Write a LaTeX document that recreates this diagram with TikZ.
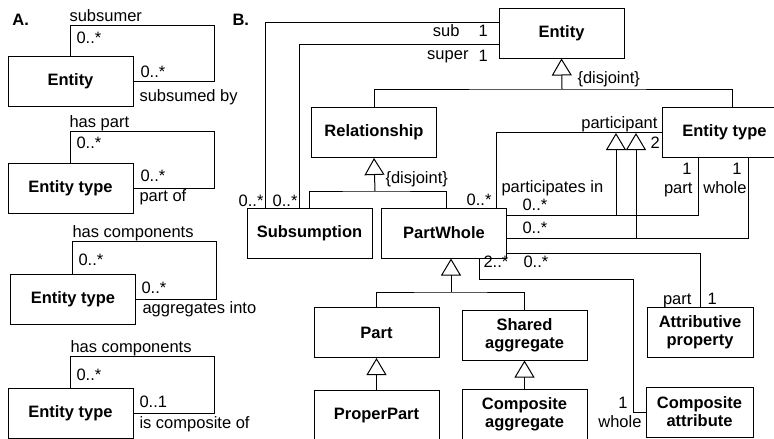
\documentclass[tikz,border=0pt]{standalone}
\usepackage{fontspec}
\setmainfont{Liberation Sans}
\usetikzlibrary{positioning, arrows.meta}

\begin{document}
\begin{tikzpicture}[x=1pt, y=-1pt, line width=1pt,
  box/.style={draw, minimum width=125pt, minimum height=50pt, inner sep=1pt, align=center, font=\bfseries\fontsize{16.5}{18}\selectfont},
  lbl/.style={inner sep=0pt, anchor=base west, font=\fontsize{16.5}{18}\selectfont},
  lble/.style={lbl, anchor=base east},
  gen/.style={-{Triangle[open, length=17pt, width=20pt]}}]

  \useasboundingbox (0,0) rectangle (774,439);

  \node[lbl, font=\bfseries\fontsize{16.5}{18}\selectfont] (atitle) at (12,25) {A.};
  \node[lbl, font=\bfseries\fontsize{16.5}{18}\selectfont] (btitle) at (232,25) {B.};

  \node[box] (ea) at (70.5,81.5) {Entity};
  \draw ([xshift=63pt]ea.north west) |- ++(144,-31) |- (ea.east);
  \node[lbl] (ea1) at (69,21) {subsumer};
  \node[lbl] (ea2) at (76,43) {0..*};
  \node[lbl] (ea3) at (140,77) {0..*};
  \node[lbl] (ea4) at (139,101) {subsumed by};

  \node[box] (eta) at (70.5,188) {Entity type};
  \draw ([xshift=63pt]eta.north west) |- ++(144,-31) |- (eta.east);
  \node[lbl] (eta1) at (69,127) {has part};
  \node[lbl] (eta2) at (76,148) {0..*};
  \node[lbl] (eta3) at (140,181) {0..*};
  \node[lbl] (eta4) at (139,201) {part of};

  \node[box] (etb) at (73,299) {Entity type};
  \draw ([xshift=62pt]etb.north west) |- ++(144,-32) |- (etb.east);
  \node[lbl] (etb1) at (72,237) {has components};
  \node[lbl] (etb2) at (78,265) {0..*};
  \node[lbl] (etb3) at (141,293) {0..*};
  \node[lbl] (etb4) at (142,313) {aggregates into};

  \node[box] (etc) at (70.5,413) {Entity type};
  \draw ([xshift=63pt]etc.north west) |- ++(144,-31) |- (etc.east);
  \node[lbl] (etc1) at (70,352) {has components};
  \node[lbl] (etc2) at (76,380) {0..*};
  \node[lbl] (etc3) at (139,407) {0..1};
  \node[lbl] (etc4) at (139,428) {is composite of};

  \node[box] (ent) at (561.5,33) {Entity};
  \node[box] (rel) at (374,132.5) {Relationship};
  \node[box] (et) at (724.5,132.5) {Entity type};
  \node[box] (sbs) at (309.5,233) {Subsumption};
  \node[box] (pw) at (444,233) {PartWhole};
  \node[box] (part) at (376.5,332.5) {Part};
  \node[box, below=32pt of part] (pp) {ProperPart};
  \node[box] (shag) at (524.5,335) {Shared\\aggregate};
  \node[box, below=28pt of shag] (cag) {Composite\\aggregate};
  \node[box, minimum width=106pt] (ap) at (700,332.5) {Attributive\\property};
  \node[box, minimum width=107pt] (ca) at (699.5,412) {Composite\\attribute};

  \draw ([xshift=19pt]sbs.north west) |- ([yshift=11pt]ent.west);
  \draw ([xshift=53pt]sbs.north west) |- ([yshift=-11pt]ent.west);
  \node[lble] (sub) at (460,36) {sub};
  \node[lbl] (sub1) at (478,36) {1};
  \node[lble] (super) at (469,59) {super};
  \node[lbl] (super1) at (478,61) {1};
  \node[lble] (sbsm1) at (264,206) {0..*};
  \node[lble] (sbsm2) at (298,206) {0..*};

  \coordinate (relj) at (375,191);
  \draw (sbs.north) |- (relj) -| ([xshift=2pt]pw.north);
  \draw[gen] (relj) -- (rel.south);
  \node[lbl] (reldis) at (385,183) {\{disjoint\}};

  \coordinate (entj) at (562,89);
  \draw (rel.north) |- (entj) -| ([xshift=7.5pt]et.north);
  \draw[gen] (entj) -- (ent.south);
  \node[lbl] (entdis) at (577,83) {\{disjoint\}};

  \draw ([xshift=-11pt]pw.north east) |- (et.west);
  \node[lble] (partic) at (658,128) {participant};
  \node[lbl] (partic2) at (650,148) {2};
  \node[lble] (partic0) at (492,205) {0..*};

  \coordinate (pwp) at ([yshift=18pt]pw.east);
  \coordinate (pwwh) at ([yshift=-5pt]pw.east);
  \coordinate (subs1) at (616,133);
  \coordinate (subs2) at (636,133);
  \draw (pwp) -| ([xshift=-26.5pt]et.south);
  \draw (pwwh) -| ([xshift=23.5pt]et.south);
  \draw[gen] (subs1 |- pwp) -- (subs1);
  \draw[gen] (subs2 |- pwwh) -- (subs2);
  \node[lbl] (partin) at (501,192) {participates in};
  \node[lbl] (partin0) at (522,210) {0..*};
  \node[lbl] (pwwh0) at (522,233) {0..*};
  \node[lble] (etp1) at (692,174) {1};
  \node[lble] (etp) at (693,193) {part};
  \node[lble] (etw1) at (742,174) {1};
  \node[lble] (etw) at (747,193) {whole};

  \draw ([yshift=-20pt]pw.east) -| (ap.north);
  \node[lbl] (ap0) at (523,267) {0..*};
  \node[lble] (app) at (692,304) {part};
  \node[lbl] (ap1) at (707,304) {1};

  \draw ([xshift=35pt]pw.south) |- ++(154,21) |- (ca.west);
  \node[lbl] (ca2) at (483,267) {2..*};
  \node[lble] (ca1) at (628,408) {1};
  \node[lble] (caw) at (642,427) {whole};

  \coordinate (pwj) at (451,292);
  \draw (part.north) |- (pwj) -| (shag.north);
  \draw[gen] (pwj) -- (pwj |- pw.south);
  \draw[gen] (pp.north) -- (part.south);
  \draw[gen] (cag.north) -- (shag.south);
\end{tikzpicture}
\end{document}
